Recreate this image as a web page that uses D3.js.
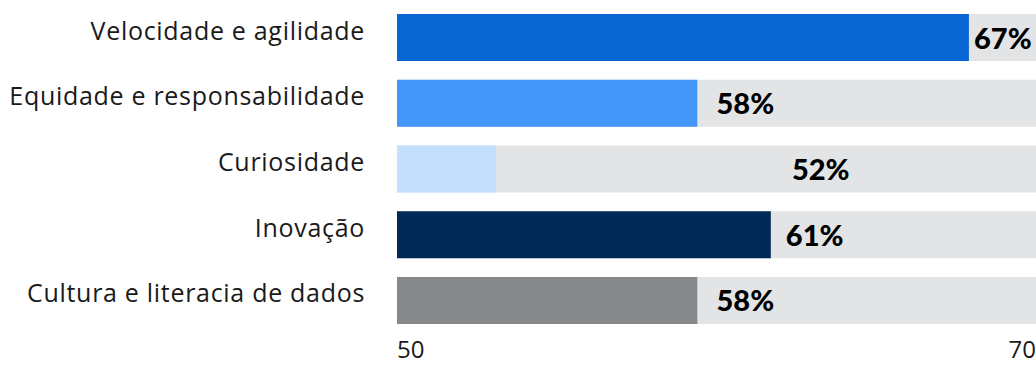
<!DOCTYPE html>
<html>
  <head>
    <meta charset="utf-8">
    <script src="https://cdn.jsdelivr.net/npm/d3@7"></script>
    <style>
      body { margin: 0; background: #fff; }
      .cat { font-family: "Open Sans", sans-serif; font-size: 25px; font-weight: 400; letter-spacing: 0.7px; fill: #1a1a1a; }
      .val { font-family: Lato, sans-serif; font-size: 29px; font-weight: 900; fill: #000; }
      .tick-label { font-family: "Open Sans", sans-serif; font-size: 24px; fill: #1a1a1a; }
    </style>
  </head>
  <body>
    <svg id="chart" width="1036" height="365"></svg>
    <script>
      const categories = [
        "Velocidade e agilidade",
        "Equidade e responsabilidade",
        "Curiosidade",
        "Inovação",
        "Cultura e literacia de dados"
      ];
      // bar lengths (axis 50..70)
      const values = [67.9, 59.4, 53.1, 61.7, 59.4];
      // printed labels
      const valueLabels = ["67%", "58%", "52%", "61%", "58%"];
      // where each printed label starts, in axis units
      const labelAt = [68.06, 60.0, 62.36, 62.17, 60.0];
      const colors = ["#0766d1", "#4496fa", "#c4dffc", "#032a56", "#878889"];
      const axisTicks = [50, 70];

      const svg = d3.select("#chart");

      const x = d3.scaleLinear().domain([50, 70]).range([397, 1036]);
      const y = d3.scaleBand().domain(categories).range([14, 324])
        .paddingInner(0.285).paddingOuter(0);

      // grey track behind each bar
      svg.selectAll("rect.track")
        .data(categories)
        .enter()
        .append("rect")
        .attr("class", "track")
        .attr("x", x(50))
        .attr("y", (d) => y(d))
        .attr("width", x(70) - x(50))
        .attr("height", y.bandwidth())
        .attr("fill", "#e3e4e6");

      svg.selectAll("rect.bar")
        .data(values)
        .enter()
        .append("rect")
        .attr("class", "bar")
        .attr("x", x(50))
        .attr("y", (d, i) => y(categories[i]))
        .attr("width", (d) => x(d) - x(50))
        .attr("height", y.bandwidth())
        .attr("fill", (d, i) => colors[i]);

      // category names on the left
      svg.selectAll("text.cat")
        .data(categories)
        .enter()
        .append("text")
        .attr("class", "cat")
        .attr("x", 365)
        .attr("y", (d) => y(d) + y.bandwidth() / 2 + 2)
        .attr("text-anchor", "end")
        .text((d) => d);

      // value labels
      svg.selectAll("text.val")
        .data(valueLabels)
        .enter()
        .append("text")
        .attr("class", "val")
        .attr("x", (d, i) => x(labelAt[i]))
        .attr("y", (d, i) => y(categories[i]) + y.bandwidth() / 2 + 11)
        .text((d) => d);

      // axis end labels
      svg.selectAll("text.tick-label")
        .data(axisTicks)
        .enter()
        .append("text")
        .attr("class", "tick-label")
        .attr("x", (d) => x(d))
        .attr("y", 358)
        .attr("text-anchor", (d, i) => (i === 0 ? "start" : "end"))
        .text((d) => d);
    </script>
  </body>
</html>
